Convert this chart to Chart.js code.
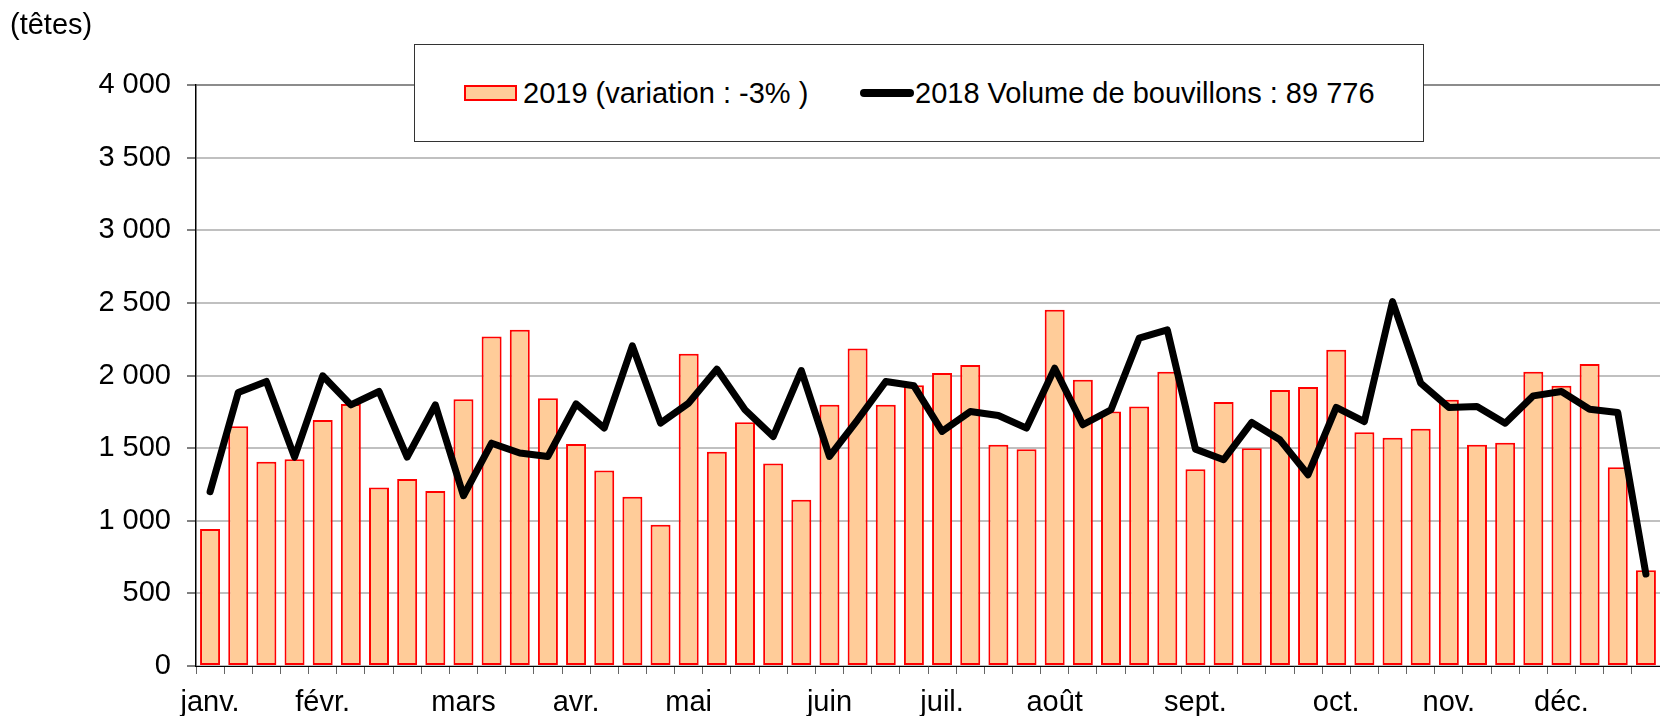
<!DOCTYPE html>
<html lang="fr">
<head>
<meta charset="utf-8">
<script src="https://cdn.jsdelivr.net/npm/chart.js@4.4.1/dist/chart.umd.min.js"></script>
<style>
  html, body { margin:0; padding:0; background:#fff; }
  #wrap { position:relative; width:1660px; height:716px; font-family:"Liberation Sans", Arial, sans-serif; color:#000; }
  #unit { position:absolute; left:10px; top:5px; font-size:29px; line-height:38px; }
  #legend { position:absolute; left:414px; top:44px; width:1008px; height:96px; background:#fff; border:1px solid #333; font-size:29px; }
  .item { position:absolute; top:0; height:96px; display:flex; align-items:center; white-space:nowrap; }
  .swatch-bar { width:49px; height:12px; background:#ffcc99; border:2px solid #ff0000; margin-right:6px; }
  .swatch-line { width:54px; height:8px; background:#000; border-radius:4px; margin-right:1px; }
</style>
</head>
<body>
<div id="wrap">
  <canvas id="chart" width="1660" height="716"></canvas>
  <div id="unit">(têtes)</div>
  <div id="legend">
    <div class="item" style="left:49px;"><span class="swatch-bar"></span><span>2019 (variation : -3% )</span></div>
    <div class="item" style="left:445px;"><span class="swatch-line"></span><span>2018 Volume de bouvillons : 89 776</span></div>
  </div>
</div>
<script>
// 52 semaines, mois affichés à la semaine de début
const months = ["janv.","févr.","mars","avr.","mai","juin","juil.","août","sept.","oct.","nov.","déc."];
const monthWeek = [0, 4, 9, 13, 17, 22, 26, 30, 35, 40, 44, 48];

const vol2019 = [943,1651,1406,1424,1693,1803,1229,1287,1204,1837,2268,2315,1844,1528,1346,1165,972,2149,1475,1679,
                 1394,1144,1798,2186,1798,1933,2018,2073,1523,1493,2452,1970,1752,1787,2025,1355,1817,1500,1901,1920,
                 2177,1610,1571,1633,1833,1523,1537,2025,1929,2080,1369,660];
const vol2018 = [1200,1883,1959,1438,1998,1798,1890,1438,1798,1172,1534,1466,1443,1805,1638,2204,1672,1810,2044,1764,
                 1580,2034,1443,1695,1959,1929,1615,1752,1725,1638,2050,1661,1764,2257,2314,1493,1420,1677,1557,1317,
                 1780,1683,2509,1947,1780,1787,1672,1860,1890,1768,1745,633];

const weekLabels = vol2019.map((v, i) => {
  const m = monthWeek.indexOf(i);
  return m >= 0 ? months[m] : "";
});

const FONT = { family:"'Liberation Sans', Arial, sans-serif", size:29 };

function fmt(v) {
  return String(v).replace(/\B(?=(\d{3})+(?!\d))/g, " ");
}

new Chart(document.getElementById("chart"), {
  type:"bar",
  data:{
    labels: weekLabels,
    datasets:[
      { type:"line", label:"2018 Volume de bouvillons : 89 776", data:vol2018, borderColor:"#000", borderWidth:7,
        pointRadius:0, tension:0, borderJoinStyle:"round", borderCapStyle:"round", order:0 },
      { type:"bar", label:"2019 (variation : -3% )", data:vol2019, backgroundColor:"#ffcc99", borderColor:"#ff0000",
        borderWidth:2, borderSkipped:false, categoryPercentage:1, barPercentage:0.71, order:1 }
    ]
  },
  options:{
    responsive:false, animation:false,
    layout:{ padding:{ top:85, right:0, left:0, bottom:0 } },
    plugins:{ legend:{ display:false }, tooltip:{ enabled:false } },
    scales:{
      x:{
        grid:{ drawOnChartArea:false, drawTicks:true, tickLength:8, color:"#666", offset:true },
        border:{ display:true, color:"#000", width:1 },
        ticks:{ autoSkip:false, maxRotation:0, padding:12, color:"#000", font:FONT },
        afterFit: s => { s.height = 50; }
      },
      y:{
        min:0, max:4000,
        grid:{ color: c => c.tick && c.tick.value === 4000 ? "#8c8c8c" : "#c0c0c0", lineWidth:2, tickLength:9, tickColor:"#000", tickWidth:1 },
        border:{ display:true, color:"#000", width:1.5 },
        ticks:{ stepSize:500, padding:16, color:"#000", font:FONT, callback: v => fmt(v) },
        afterFit: s => { s.width = 196; }
      }
    }
  }
});
</script>
</body>
</html>
